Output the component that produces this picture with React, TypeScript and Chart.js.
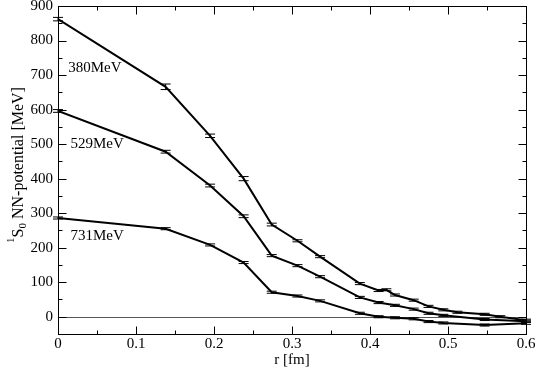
import React, { useEffect, useRef } from "react";
import { Chart, registerables } from "chart.js";

Chart.register(...registerables);

// ---- data ----
const r380 = [0, 0.138, 0.195, 0.238, 0.274, 0.307, 0.336, 0.387, 0.411, 0.421, 0.432, 0.456, 0.475, 0.494, 0.512, 0.547, 0.567, 0.6];
const v380 = [862, 666, 524, 400, 267, 220, 174, 96, 76, 78, 63, 48, 30, 20, 13, 7, 0, -10];
const e380 = [5, 8, 5, 6, 4, 3, 3, 3, 3, 3, 3, 3, 3, 3, 3, 3, 3, 3];

const r529 = [0, 0.138, 0.195, 0.238, 0.274, 0.307, 0.336, 0.387, 0.411, 0.432, 0.456, 0.475, 0.494, 0.547, 0.6];
const v529 = [596, 478, 380, 291, 177, 148, 116, 56, 41, 33, 22, 10, 4, -8, -13];
const e529 = [4, 4, 4, 4, 3, 3, 3, 3, 3, 3, 3, 3, 3, 3, 3];

const r731 = [0, 0.138, 0.195, 0.238, 0.274, 0.307, 0.336, 0.387, 0.411, 0.432, 0.456, 0.475, 0.494, 0.547, 0.6];
const v731 = [286, 255, 208, 157, 71, 60, 46, 10, 0, -3, -6, -14, -18, -24, -19];
const e731 = [3, 3, 3, 3, 3, 3, 3, 3, 3, 3, 3, 3, 3, 3, 3];

const seriesNames = ["380MeV", "529MeV", "731MeV"];
const labelR = [0.013, 0.016, 0.016];
const labelV = [720, 499, 235];

const xMajorTicks = [0, 0.1, 0.2, 0.3, 0.4, 0.5, 0.6];
const yMajorTicks = [0, 100, 200, 300, 400, 500, 600, 700, 800, 900];

const FONT = "'Liberation Serif', 'Times New Roman', serif";

function pts(r: number[], v: number[]) {
  return r.map((x, i) => ({ x, y: v[i] }));
}

const errs = [e380, e529, e731];

const decorPlugin = {
  id: "decor",
  beforeDatasetsDraw(chart: any) {
    const { ctx, chartArea, scales } = chart;
    const y0 = Math.round(scales.y.getPixelForValue(0)) + 0.5;
    ctx.save();
    ctx.strokeStyle = "#555";
    ctx.lineWidth = 1;
    ctx.beginPath();
    ctx.moveTo(chartArea.left, y0);
    ctx.lineTo(chartArea.right, y0);
    ctx.stroke();
    ctx.restore();
  },
  afterDatasetsDraw(chart: any) {
    const { ctx, chartArea, scales } = chart;
    const xs = scales.x;
    const ys = scales.y;
    ctx.save();
    // error bars
    ctx.strokeStyle = "#000";
    ctx.lineWidth = 1;
    chart.data.datasets.forEach((ds: any, di: number) => {
      ds.data.forEach((p: any, i: number) => {
        const e = errs[di][i];
        const px = xs.getPixelForValue(p.x);
        const hi = ys.getPixelForValue(p.y + e);
        const lo = ys.getPixelForValue(p.y - e);
        ctx.beginPath();
        ctx.moveTo(px, hi);
        ctx.lineTo(px, lo);
        ctx.moveTo(px - 5, hi);
        ctx.lineTo(px + 5, hi);
        ctx.moveTo(px - 5, lo);
        ctx.lineTo(px + 5, lo);
        ctx.stroke();
      });
    });
    // frame
    const L = Math.round(chartArea.left) + 0.5;
    const R = Math.round(chartArea.right) + 0.5;
    const T = Math.round(chartArea.top) + 0.5;
    const B = Math.round(chartArea.bottom) + 0.5;
    ctx.strokeStyle = "#000";
    ctx.lineWidth = 1;
    ctx.strokeRect(L, T, R - L, B - T);
    // ticks
    ctx.beginPath();
    xMajorTicks.forEach((v, i) => {
      const px = Math.round(xs.getPixelForValue(v)) + 0.5;
      ctx.moveTo(px, B);
      ctx.lineTo(px, B - 8);
      ctx.moveTo(px, T);
      ctx.lineTo(px, T + 8);
      if (i < xMajorTicks.length - 1) {
        const mx = Math.round(xs.getPixelForValue(v + 0.05)) + 0.5;
        ctx.moveTo(mx, B);
        ctx.lineTo(mx, B - 4);
        ctx.moveTo(mx, T);
        ctx.lineTo(mx, T + 4);
      }
    });
    yMajorTicks.forEach((v) => {
      const py = Math.round(ys.getPixelForValue(v)) + 0.5;
      ctx.moveTo(L, py);
      ctx.lineTo(L + 8, py);
      ctx.moveTo(R, py);
      ctx.lineTo(R - 8, py);
      const my = Math.round(ys.getPixelForValue(v - 50)) + 0.5;
      ctx.moveTo(L, my);
      ctx.lineTo(L + 4, my);
      ctx.moveTo(R, my);
      ctx.lineTo(R - 4, my);
    });
    ctx.stroke();
    // series labels
    ctx.fillStyle = "#000";
    ctx.font = `15px ${FONT}`;
    ctx.textAlign = "left";
    ctx.textBaseline = "middle";
    seriesNames.forEach((name, i) => {
      ctx.fillText(name, xs.getPixelForValue(labelR[i]), ys.getPixelForValue(labelV[i]));
    });
    // y-axis title with super/subscript
    const cy = (chartArea.top + chartArea.bottom) / 2 - 5;
    ctx.translate(22.5, cy);
    ctx.rotate(-Math.PI / 2);
    ctx.textBaseline = "alphabetic";
    const big = `16px ${FONT}`;
    const small = `11px ${FONT}`;
    const parts = [
      { t: "1", f: small, dy: -9 },
      { t: "S", f: big, dy: 0 },
      { t: "0", f: small, dy: 3.5 },
      { t: " NN-potential [MeV]", f: big, dy: 0 },
    ];
    let total = 0;
    parts.forEach((p) => {
      ctx.font = p.f;
      total += ctx.measureText(p.t).width;
    });
    let x = -total / 2;
    parts.forEach((p) => {
      ctx.font = p.f;
      ctx.fillText(p.t, x, p.dy);
      x += ctx.measureText(p.t).width;
    });
    ctx.restore();
  },
};

export default function App() {
  const ref = useRef<HTMLCanvasElement | null>(null);
  useEffect(() => {
    document.body.style.margin = "0";
    const canvas = ref.current!;
    const line = (data: any) => ({
      data,
      borderColor: "#000",
      borderWidth: 2,
      pointRadius: 0,
      fill: false,
      tension: 0,
    });
    const chart = new Chart(canvas, {
      type: "line",
      data: {
        datasets: [line(pts(r380, v380)), line(pts(r529, v529)), line(pts(r731, v731))],
      },
      options: {
        responsive: false,
        animation: false,
        layout: { padding: { top: 6, right: 11, left: 0, bottom: 0 } },
        plugins: { legend: { display: false }, tooltip: { enabled: false }, title: { display: false } },
        scales: {
          x: {
            type: "linear",
            min: 0,
            max: 0.6,
            grid: { display: false, drawTicks: false },
            border: { display: false },
            ticks: {
              padding: 1,
              color: "#000",
              font: { family: FONT, size: 15 },
              callback: (v: any) => (Math.abs(v) < 1e-9 ? "0" : Number(v).toFixed(1)),
            },
            afterBuildTicks: (s: any) => {
              s.ticks = xMajorTicks.map((v) => ({ value: v }));
            },
            title: {
              display: true,
              text: "r [fm]",
              color: "#000",
              font: { family: FONT, size: 15 },
              padding: { top: 0, bottom: 0 },
            },
            afterFit: (s: any) => {
              s.height = 35;
              s.paddingLeft = 0;
              s.paddingRight = 0;
            },
          },
          y: {
            type: "linear",
            min: -50,
            max: 900,
            grid: { display: false, drawTicks: false },
            border: { display: false },
            ticks: {
              padding: 5,
              color: "#000",
              font: { family: FONT, size: 15 },
            },
            afterBuildTicks: (s: any) => {
              s.ticks = yMajorTicks.map((v) => ({ value: v }));
            },
            afterFit: (s: any) => {
              s.width = 58;
              s.paddingTop = 0;
              s.paddingBottom = 0;
            },
          },
        },
      },
      plugins: [decorPlugin],
    } as any);
    return () => chart.destroy();
  }, []);
  return (
    <div style={{ width: 537, height: 369 }}>
      <canvas ref={ref} width={537} height={369} />
    </div>
  );
}
